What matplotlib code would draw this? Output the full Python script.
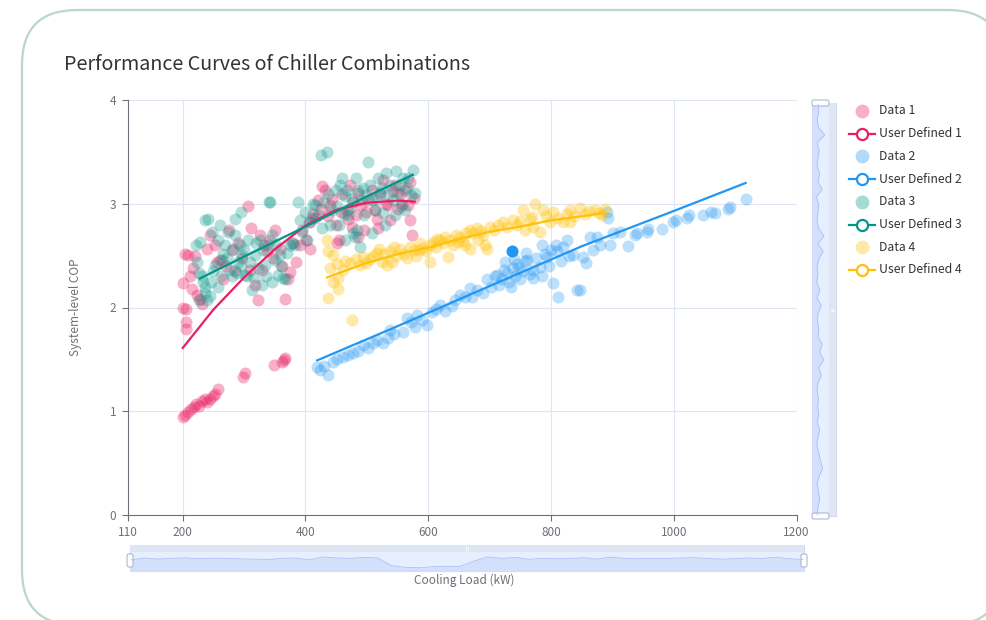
import numpy as np
import matplotlib.pyplot as plt
from matplotlib.patches import FancyBboxPatch, Rectangle

plt.rcParams['font.family'] = ['Noto Sans CJK SC', 'DejaVu Sans']

# ---- data ----
d1_x = [200, 203, 208, 213, 218, 222, 226, 231, 236, 240, 244, 249, 253, 258, 298, 301, 349, 362, 365, 367,
        201, 205, 206, 205, 200, 208, 204, 212, 216, 220, 215, 224, 228, 232, 239, 245, 253, 256, 261, 266,
        270, 276, 280, 285, 290, 296, 306, 310, 312, 318, 323, 326, 329, 333, 337, 342, 347, 350, 358, 362,
        367, 371, 375, 380, 385, 391, 395, 401, 405, 407, 412, 416, 420, 425, 427, 432, 436, 440, 444, 449,
        454, 458, 460, 467, 470, 473, 478, 482, 486, 490, 495, 499, 502, 508, 513, 517, 521, 527, 531, 535,
        538, 542, 546, 550, 554, 558, 562, 567, 570, 574, 577, 570, 451, 486, 476, 518]
d1_y = [0.94, 0.96, 0.99, 1.02, 1.04, 1.07, 1.05, 1.10, 1.12, 1.09, 1.12, 1.15, 1.17, 1.21, 1.33, 1.37, 1.45, 1.47, 1.49, 1.51,
        2.00, 1.99, 1.86, 1.79, 2.24, 2.51, 2.52, 2.30, 2.38, 2.50, 2.18, 2.12, 2.08, 2.03, 2.56, 2.70, 2.60, 2.44, 2.46, 2.27,
        2.40, 2.75, 2.55, 2.35, 2.62, 2.48, 2.98, 2.36, 2.77, 2.22, 2.07, 2.70, 2.36, 2.60, 2.54, 2.65, 2.48, 2.75, 2.56, 2.40,
        2.08, 2.27, 2.34, 2.62, 2.44, 2.60, 2.75, 2.65, 2.82, 2.56, 2.90, 2.86, 3.04, 2.95, 3.17, 3.13, 2.88, 2.99, 3.05, 2.80,
        2.65, 2.92, 3.09, 2.94, 2.85, 3.18, 3.02, 2.89, 3.10, 2.99, 2.75, 2.92, 3.04, 3.13, 2.94, 2.85, 3.09, 3.23, 3.00, 2.99,
        2.84, 3.12, 3.18, 2.95, 3.09, 3.00, 3.13, 2.99, 2.84, 2.70, 3.06, 3.21, 2.62, 2.68, 2.78, 2.77]

d2_x = [419, 424, 437, 430, 445, 452, 461, 470, 478, 486, 494, 502, 510, 517, 526, 535, 538, 545, 559, 566,
        572, 579, 582, 590, 598, 606, 612, 619, 628, 639, 644, 652, 660, 668, 671, 680, 689, 696, 702, 708,
        712, 716, 720, 724, 728, 732, 738, 742, 745, 750, 754, 758, 761, 765, 771, 775, 782, 786, 790, 793,
        797, 804, 808, 810, 812, 816, 820, 826, 830, 836, 843, 847, 852, 857, 864, 868, 875, 880, 891, 893,
        896, 901, 913, 926, 937, 940, 957, 958, 981, 999, 1003, 1022, 1025, 1048, 1060, 1068, 1089, 1092, 1117,
        725, 735, 748, 770, 800, 785, 760, 740]
d2_y = [1.43, 1.40, 1.35, 1.44, 1.47, 1.50, 1.52, 1.54, 1.56, 1.58, 1.64, 1.61, 1.66, 1.69, 1.66, 1.71, 1.78, 1.74, 1.76, 1.90,
        1.86, 1.81, 1.93, 1.88, 1.83, 1.96, 1.99, 2.02, 1.97, 2.01, 2.07, 2.12, 2.10, 2.19, 2.10, 2.17, 2.14, 2.27, 2.20, 2.30,
        2.31, 2.22, 2.27, 2.36, 2.33, 2.25, 2.38, 2.30, 2.42, 2.27, 2.35, 2.45, 2.46, 2.32, 2.36, 2.48, 2.39, 2.30, 2.52, 2.49,
        2.40, 2.24, 2.60, 2.54, 2.10, 2.45, 2.58, 2.65, 2.50, 2.51, 2.17, 2.17, 2.49, 2.43, 2.68, 2.55, 2.68, 2.60, 2.92, 2.86,
        2.60, 2.72, 2.73, 2.59, 2.70, 2.72, 2.73, 2.76, 2.76, 2.82, 2.84, 2.86, 2.89, 2.89, 2.92, 2.91, 2.95, 2.97, 3.05,
        2.44, 2.20, 2.38, 2.28, 2.55, 2.60, 2.53, 2.47]
d2_focus_x = [737]
d2_focus_y = [2.54]

d3_x = [228, 233, 236, 240, 244, 241, 248, 253, 257, 261, 264, 269, 274, 277, 282, 285, 290, 293, 297, 301,
        306, 310, 313, 318, 323, 326, 329, 334, 339, 342, 345, 350, 355, 358, 367, 375, 383, 391, 399, 407,
        416, 420, 427, 425, 435, 437, 443, 449, 457, 460, 465, 470, 473, 478, 482, 486, 490, 495, 502, 505,
        508, 513, 518, 521, 527, 531, 538, 543, 548, 554, 559, 567, 575, 562, 546, 530, 489, 465, 440, 226,
        236, 223, 221, 236, 340, 388, 226, 231, 246, 250, 258, 262, 266, 272, 280, 288, 295, 300, 305, 316,
        320, 330, 336, 345, 352, 360, 364, 370, 378, 395, 403, 410, 412, 430, 452, 455, 462, 468, 476, 493,
        498, 516, 525, 534, 550, 556, 565, 572, 578, 285, 295, 484, 481, 508]
d3_y = [2.63, 2.25, 2.14, 2.07, 2.11, 2.85, 2.73, 2.41, 2.65, 2.80, 2.46, 2.60, 2.73, 2.36, 2.56, 2.70, 2.44, 2.60, 2.51, 2.31,
        2.65, 2.44, 2.17, 2.51, 2.38, 2.65, 2.22, 2.41, 2.60, 3.02, 2.70, 2.46, 2.31, 2.51, 2.27, 2.60, 2.60, 2.84, 2.92, 2.82,
        2.99, 2.89, 2.77, 3.47, 3.50, 3.09, 2.94, 3.13, 3.18, 3.25, 3.07, 2.89, 2.96, 2.72, 3.25, 3.13, 3.04, 2.89, 3.40, 3.18,
        3.04, 2.94, 3.25, 3.11, 2.91, 3.30, 3.18, 3.04, 3.32, 3.18, 3.25, 3.25, 3.33, 2.94, 2.89, 2.80, 2.58, 2.65, 2.80, 2.07,
        2.20, 2.44, 2.60, 2.84, 3.02, 3.02, 2.33, 2.30, 2.25, 2.35, 2.20, 2.30, 2.52, 2.48, 2.30, 2.33, 2.40, 2.55, 2.30, 2.28,
        2.62, 2.55, 2.30, 2.25, 2.60, 2.40, 2.28, 2.53, 2.62, 2.73, 2.65, 2.86, 3.00, 3.02, 2.98, 2.80, 2.90, 3.13, 3.05, 3.15,
        3.08, 3.05, 3.15, 3.08, 3.10, 2.98, 3.15, 3.08, 3.10, 2.85, 2.92, 2.75, 2.68, 2.72]

d4_x = [437, 440, 445, 451, 476, 435, 437, 445, 453, 461, 453, 473, 489, 494, 505, 516, 525, 533, 538, 541,
        548, 554, 560, 565, 570, 576, 580, 587, 592, 597, 603, 603, 608, 613, 619, 624, 628, 632, 635, 640,
        645, 652, 657, 662, 668, 668, 673, 680, 681, 686, 693, 696, 701, 707, 714, 722, 728, 738, 745, 750,
        754, 758, 765, 769, 771, 774, 782, 787, 792, 798, 804, 812, 820, 826, 831, 831, 838, 847, 855, 862,
        872, 878, 883, 888, 465, 482, 499, 510, 520, 528, 545, 585, 615, 648, 660, 690]
d4_y = [2.09, 2.38, 2.25, 2.42, 1.88, 2.65, 2.54, 2.51, 2.18, 2.36, 2.28, 2.43, 2.41, 2.49, 2.47, 2.53, 2.44, 2.41, 2.54, 2.44,
        2.50, 2.56, 2.52, 2.48, 2.58, 2.55, 2.50, 2.62, 2.57, 2.54, 2.60, 2.44, 2.63, 2.58, 2.65, 2.62, 2.68, 2.49, 2.65, 2.60,
        2.70, 2.68, 2.64, 2.72, 2.75, 2.56, 2.72, 2.77, 2.65, 2.74, 2.60, 2.56, 2.78, 2.75, 2.80, 2.82, 2.78, 2.84, 2.80, 2.83,
        2.94, 2.75, 2.85, 2.87, 2.78, 3.00, 2.73, 2.94, 2.88, 2.82, 2.92, 2.86, 2.82, 2.90, 2.94, 2.82, 2.88, 2.96, 2.90, 2.93,
        2.94, 2.91, 2.89, 2.95, 2.45, 2.47, 2.43, 2.50, 2.56, 2.52, 2.58, 2.55, 2.66, 2.63, 2.60, 2.70]

# fitted curves ("User Defined")
u1_x = [200, 250, 300, 350, 400, 450, 500, 550, 578]
u1_y = [1.61, 1.98, 2.29, 2.56, 2.79, 2.94, 3.01, 3.03, 3.02]
u2_x = [419, 550, 717, 850, 1000, 1117]
u2_y = [1.49, 1.82, 2.25, 2.59, 2.93, 3.20]
u3_x = [228, 300, 400, 500, 575]
u3_y = [2.28, 2.49, 2.78, 3.07, 3.28]
u4_x = [435, 500, 554, 603, 650, 700, 750, 800, 850, 883]
u4_y = [2.29, 2.43, 2.52, 2.58, 2.66, 2.73, 2.78, 2.84, 2.88, 2.91]

x_ticks = [110, 200, 400, 600, 800, 1000, 1200]
y_ticks = [0, 1, 2, 3, 4]

# slider data shadows (relative heights)
xshadow = [0.62, 0.72, 0.66, 0.70, 0.73, 0.68, 0.71, 0.70, 0.67, 0.66, 0.64, 0.70, 0.72, 0.62, 0.78, 0.72,
           0.70, 0.76, 0.72, 0.30, 0.20, 0.18, 0.24, 0.26, 0.25, 0.55, 0.78, 0.70, 0.76, 0.65, 0.70, 0.68,
           0.69, 0.74, 0.66, 0.77, 0.70, 0.68, 0.70, 0.69, 0.72, 0.74, 0.70, 0.66, 0.68, 0.72, 0.70, 0.76, 0.68, 0.64]
yshadow = [0.35, 0.40, 0.30, 0.38, 0.75, 0.30, 0.42, 0.35, 0.30, 0.45, 0.35, 0.60, 0.25, 0.40, 0.35, 0.30,
           0.38, 0.70, 0.35, 0.65, 0.40, 0.30, 0.35, 0.28, 0.45, 0.30, 0.55, 0.35, 0.32, 0.40, 0.36, 0.60,
           0.45, 0.70, 0.40, 0.55, 0.35, 0.30, 0.38, 0.33, 0.40, 0.30, 0.45, 0.35, 0.28, 0.40, 0.50, 0.62,
           0.42, 0.30, 0.38, 0.45, 0.35, 0.30]

c1, c2, c3, c4 = '#e91e63', '#2196f3', '#009688', '#ffc107'
txt = '#6e7079'
W, H = 986, 620

fig = plt.figure(figsize=(W / 100, H / 100), dpi=100)

# background layer in pixel coordinates
bg = fig.add_axes([0, 0, 1, 1])
bg.set_xlim(0, W)
bg.set_ylim(H, 0)
bg.axis('off')
bg.add_patch(FancyBboxPatch((22, 10), 981, 615, boxstyle='round,pad=0,rounding_size=55',
                            fc='white', ec='#b9d7cd', lw=1.6))

# x slider
bg.add_patch(Rectangle((130, 545), 674, 26, fc='#e7efff', ec='#d2dbee', lw=0.8))
bg.add_patch(Rectangle((130, 545), 674, 7, fc='#dfe6f3', ec='none'))
sx = np.linspace(131, 803, len(xshadow))
sy = 571 - np.array(xshadow) * 18
bg.fill_between(sx, sy, 571, color='#d3e0fc', lw=0)
bg.plot(sx, sy, color='#a9c1f5', lw=0.6)
for hx in (130, 804):
    bg.add_patch(FancyBboxPatch((hx - 3, 554), 6, 13, boxstyle='round,pad=0,rounding_size=2',
                                fc='white', ec='#acb8d1', lw=0.8))
bg.plot([466, 466], [547, 550], color='white', lw=0.6)
bg.plot([468, 468], [547, 550], color='white', lw=0.6)

# y slider
bg.add_patch(Rectangle((812, 103), 24, 413, fc='#e7efff', ec='#d2dbee', lw=0.8))
bg.add_patch(Rectangle((829, 103), 7, 413, fc='#dfe6f3', ec='none'))
yy = np.linspace(104, 515, len(yshadow))
xx = 812 + np.array(yshadow) * 17
bg.fill_betweenx(yy, 812, xx, color='#d3e0fc', lw=0)
bg.plot(xx, yy, color='#a9c1f5', lw=0.6)
for hy in (103, 516):
    bg.add_patch(FancyBboxPatch((812, hy - 3), 17, 6, boxstyle='round,pad=0,rounding_size=2',
                                fc='white', ec='#acb8d1', lw=0.8))
bg.plot([831, 834], [309, 309], color='white', lw=0.6)
bg.plot([831, 834], [311, 311], color='white', lw=0.6)

# legend drawn by hand
labels = ['Data 1', 'User Defined 1', 'Data 2', 'User Defined 2',
          'Data 3', 'User Defined 3', 'Data 4', 'User Defined 4']
cols = [c1, c1, c2, c2, c3, c3, c4, c4]
for i, (lab, col) in enumerate(zip(labels, cols)):
    ly = 111 + i * 22.7
    if i % 2 == 0:
        bg.plot(862, ly, 'o', ms=10, color=col, alpha=0.35, mec='none')
    else:
        bg.plot([849, 875], [ly, ly], color=col, lw=1.6)
        bg.plot(862, ly, 'o', ms=8, mfc='white', mec=col, mew=1.6)
    bg.text(879, ly, lab, fontsize=8.8, color='#333333', va='center', ha='left')

fig.text(64 / W, 1 - 65 / H, 'Performance Curves of Chiller Combinations',
         fontsize=14.2, color='#333333', va='center', ha='left')
fig.text(76 / W, 1 - 307 / H, 'System-level COP', fontsize=8.5, color=txt,
         rotation=90, va='center', ha='center')
fig.text(464 / W, 1 - 580 / H, 'Cooling Load (kW)', fontsize=8.5, color=txt,
         va='center', ha='center')

# main chart
ax = fig.add_axes([127.5 / W, 1 - 515 / H, (796.5 - 127.5) / W, 415 / H])
ax.set_facecolor('none')
ax.scatter(d1_x, d1_y, s=75, color=c1, alpha=0.35, lw=0, zorder=3)
ax.scatter(d2_x, d2_y, s=75, color=c2, alpha=0.3, lw=0, zorder=3)
ax.scatter(d2_focus_x, d2_focus_y, s=75, color=c2, alpha=1, lw=0, zorder=3)
ax.scatter(d3_x, d3_y, s=75, color=c3, alpha=0.3, lw=0, zorder=3)
ax.scatter(d4_x, d4_y, s=75, color=c4, alpha=0.35, lw=0, zorder=3)
ax.plot(u1_x, u1_y, color=c1, lw=1.6, zorder=4)
ax.plot(u2_x, u2_y, color=c2, lw=1.6, zorder=4)
ax.plot(u3_x, u3_y, color=c3, lw=1.6, zorder=4)
ax.plot(u4_x, u4_y, color=c4, lw=1.6, zorder=4)

ax.set_xlim(110, 1200)
ax.set_ylim(0, 4)
ax.set_xticks(x_ticks)
ax.set_yticks(y_ticks)
ax.grid(True, color='#e0e6f1', lw=0.8, zorder=0)
ax.set_axisbelow(True)
for s in ('top', 'right'):
    ax.spines[s].set_visible(False)
for s in ('left', 'bottom'):
    ax.spines[s].set_color(txt)
    ax.spines[s].set_linewidth(0.8)
ax.tick_params(colors=txt, labelsize=8.5, length=4, width=0.8, pad=4)

fig.savefig('out.png', dpi=100)
